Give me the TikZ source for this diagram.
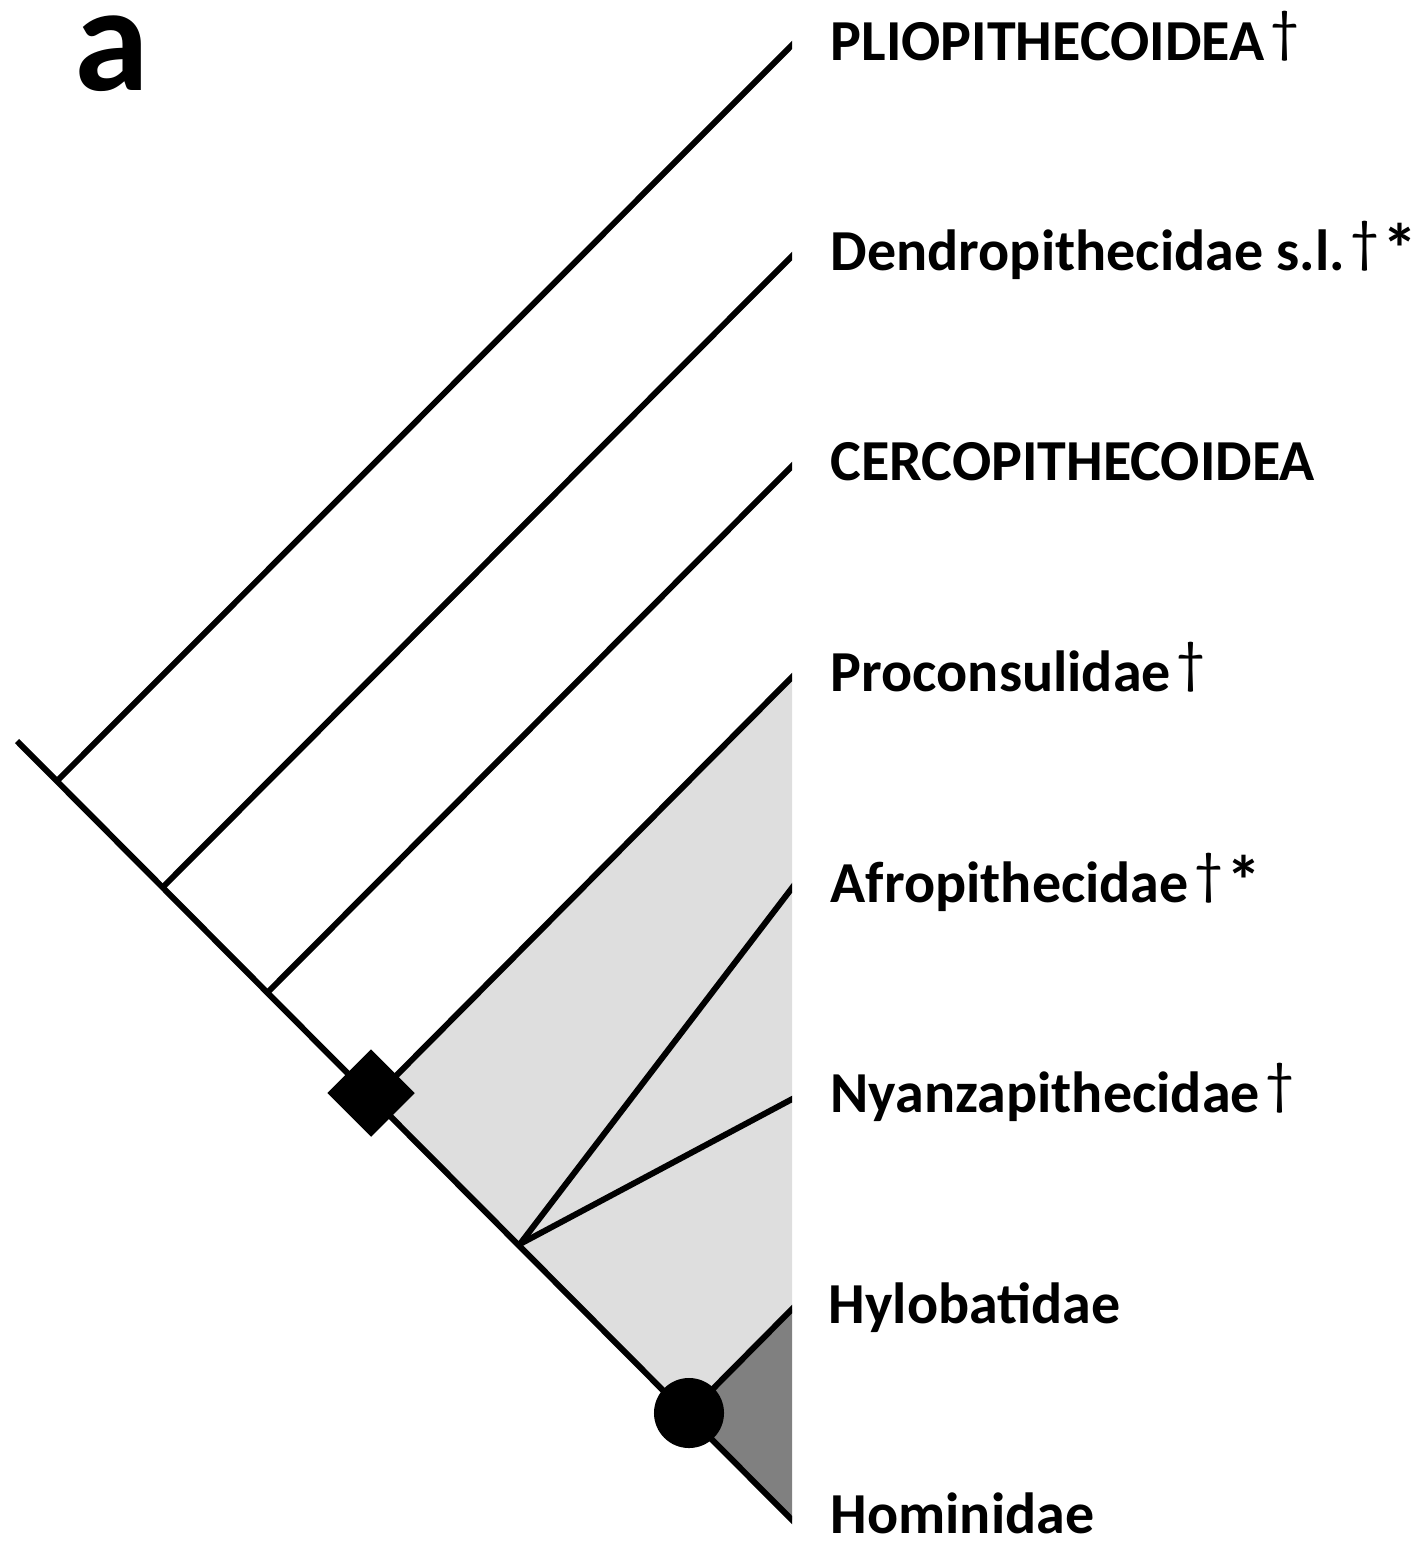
\documentclass[tikz,border=0pt]{standalone}
\usepackage{fontspec}
\setmainfont{Carlito}
\usepackage{xcolor}
\usetikzlibrary{positioning}
\usetikzlibrary{calc}
\usetikzlibrary{shapes.geometric}
\colorlet{cladelight}{black!13}
\colorlet{cladedark}{black!50}
\newcommand{\extinct}{\hspace{0.1em}\raisebox{0.14em}{\mdseries †}}
\newcommand{\revised}{\hspace{0.06em}\raisebox{-0.06em}{\fontsize{20}{20}\selectfont *}}

\begin{document}
\begin{tikzpicture}[x=0.01cm,y=-0.01cm,
    branch/.style={line width=1.7pt},
    taxon/.style={anchor=base west,inner sep=0pt,font=\fontsize{16.5}{19}\selectfont\bfseries}]
    \useasboundingbox (0,0) rectangle (1422,1542);

    % tips and branching points
    \coordinate (root) at (17,741);
    \coordinate (tPlio) at (792,45);
    \coordinate (tDend) at (792,256);
    \coordinate (tCerc) at (792,466);
    \coordinate (tProc) at (792,677);
    \coordinate (tAfro) at (792,888);
    \coordinate (tNyan) at (792,1099);
    \coordinate (tHylo) at (792,1309);
    \coordinate (tHomi) at (792,1520);
    \coordinate (nPlio) at (57,781);
    \coordinate (nDend) at (163,887);
    \coordinate (nCerc) at (268,992);
    \coordinate (nProc) at (374,1098);
    \coordinate (nAfro) at (520,1244);
    \coordinate (nHomi) at (689,1413);

    % shaded clades
    \fill[cladelight] (nProc) -- (tProc) -- (tHylo) -- (nHomi) -- cycle;
    \fill[cladedark] (nHomi) -- (tHylo) -- (tHomi) -- cycle;

    \begin{scope}
    \clip (0,0) rectangle (792,1542);
    \draw[branch] (root) -- ($(tHomi)+(4,4)$);
    \draw[branch] (nPlio) -- ($(tPlio)+(4,-4)$);
    \draw[branch] (nDend) -- ($(tDend)+(4,-4)$);
    \draw[branch] (nCerc) -- ($(tCerc)+(4,-4)$);
    \draw[branch] (nProc) -- ($(tProc)+(4,-4)$);
    \draw[branch] (nAfro) -- ($(tAfro)+(3,-4)$);
    \draw[branch] (nAfro) -- ($(tNyan)+(4,-2)$);
    \draw[branch] (nHomi) -- ($(tHylo)+(4,-4)$);
    \end{scope}

    \node[diamond,fill=black,inner sep=0pt,minimum width=0.88cm,minimum height=0.88cm] (dProc) at (371,1093) {};
    \node[circle,fill=black,inner sep=0pt,minimum size=0.70cm] (cHomi) at (nHomi) {};

    % labels
    \node[taxon] (lPlio) at (830,60) {PLIOPITHECOIDEA\extinct};
    \node[taxon] (lDend) at (830,270) {Dendropithecidae s.l.\extinct\revised};
    \node[taxon] (lCerc) at (830,480) {CERCOPITHECOIDEA};
    \node[taxon] (lProc) at (830,691) {Proconsulidae\extinct};
    \node[taxon] (lAfro) at (830,902) {Afropithecidae\extinct\revised};
    \node[taxon] (lNyan) at (830,1112) {Nyanzapithecidae\extinct};
    \node[taxon] (lHylo) at (828,1323) {Hylobatidae};
    \node[taxon] (lHomi) at (830,1533) {Hominidae};

    \node[anchor=base west,inner sep=0pt,font=\fontsize{43}{50}\selectfont\bfseries] (panel) at (74,90) {a};
\end{tikzpicture}
\end{document}
